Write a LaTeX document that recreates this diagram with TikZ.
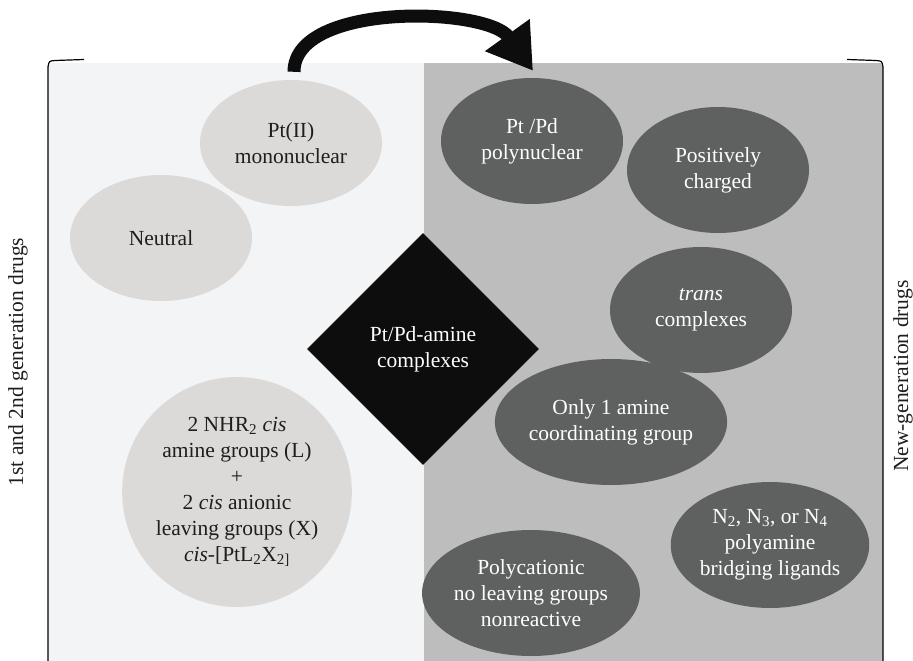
\documentclass[tikz,border=0pt]{standalone}
\usepackage{fontspec}
\setmainfont{Liberation Serif}
\usepackage{tikz}
\usepackage{xcolor}
\usetikzlibrary{shapes,shapes.geometric,arrows.meta,positioning,calc}
\definecolor{paleside}{RGB}{243,244,246}
\definecolor{greyside}{RGB}{189,189,189}
\definecolor{blobpale}{RGB}{219,218,216}
\definecolor{blobdark}{RGB}{95,96,96}
\definecolor{inkdark}{RGB}{30,30,30}
\definecolor{coreblack}{RGB}{13,13,13}

\begin{document}
\begin{tikzpicture}[
    x=1pt, y=-1pt,
    font=\fontsize{21.5}{26}\selectfont,
    paleblob/.style={ellipse, fill=blobpale, inner sep=0pt, minimum width=182, minimum height=126, align=center, text=inkdark},
    darkblob/.style={ellipse, fill=blobdark, inner sep=0pt, minimum width=182, minimum height=126, align=center, text=white},
    core/.style={diamond, fill=coreblack, inner sep=0pt, minimum width=232, minimum height=232, align=center, text=white},
    sidelabel/.style={rotate=90, text=inkdark},
    rim/.style={draw=black, line width=1.2pt},
    bigarrow/.style={-{Triangle[length=44pt,width=52pt]}, line width=13pt, draw=coreblack}
]
\useasboundingbox (0,0) rectangle (913,661);

% the two halves
\fill[paleside] (48,63) rectangle (424,661);
\fill[greyside] (424,63) rectangle (883,661);
\draw[rim] (84,59.5) -- (55,60.5) .. controls (49,61) .. (48,67) -- (48,661);
\draw[rim] (847,59.5) -- (876,60.5) .. controls (882,61) .. (883,67) -- (883,661);

% older drugs
\node[paleblob] (mono) at (291,143) {Pt(II)\\mononuclear};
\node[paleblob] (neutral) at (161,238) {Neutral};
\node[paleblob, minimum width=211, minimum height=230] (cisform) at (237,492)
    {2 NHR\textsubscript{2} \textit{cis}\\amine groups (L)\\+\\2 \textit{cis} anionic\\leaving groups (X)\\\textit{cis}-[PtL\textsubscript{2}X\textsubscript{2]}};

% newer drugs
\node[darkblob] (poly) at (532,141) {Pt /Pd\\polynuclear};
\node[darkblob] (positive) at (718,170) {Positively\\charged};
\node[darkblob] (trans) at (701,310) {\textit{trans}\\complexes};
\node[darkblob, minimum width=196] (oneamine) at (611,422) {Only 1 amine\\coordinating group};
\node[darkblob] (bridging) at (770,545) {N\textsubscript{2}, N\textsubscript{3}, or N\textsubscript{4}\\polyamine\\bridging ligands};
\node[darkblob] (polycation) at (531,593) {Polycationic\\no leaving groups\\nonreactive};

\node[core] (centre) at (423,349) {Pt/Pd-amine\\complexes};

\node[sidelabel] (oldgen) at (18,362) {1st and 2nd generation drugs};
\node[sidelabel] (newgen) at (903,376) {New-generation drugs};

\draw[bigarrow] ($(mono.north)+(3,-8)$) .. controls +(0,-70) and +(-46,-64) .. ($(poly.north)+(1,-7)$);

\end{tikzpicture}
\end{document}
